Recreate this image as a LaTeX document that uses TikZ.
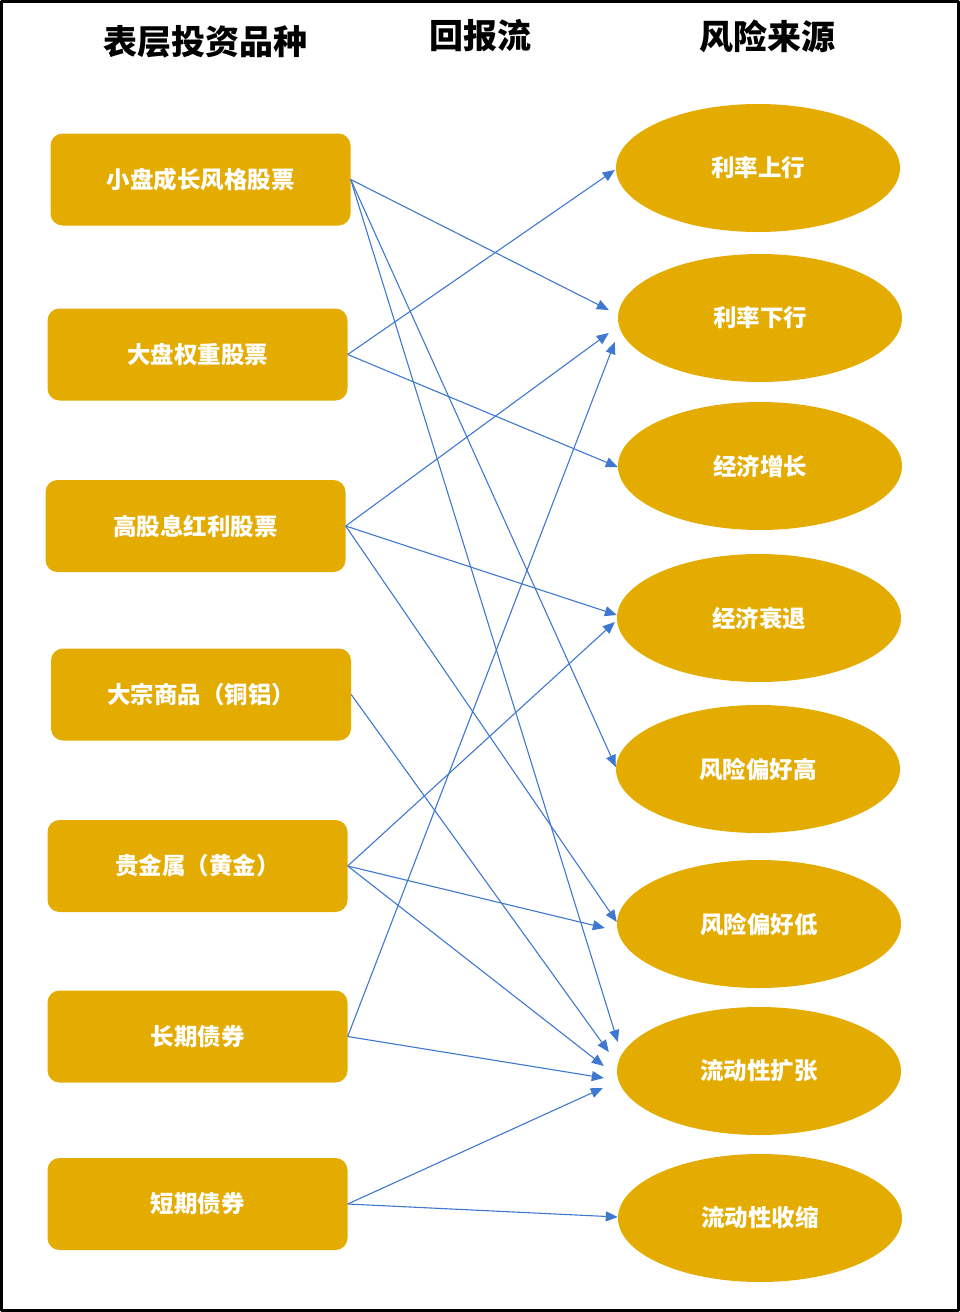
\documentclass[tikz,border=0pt]{standalone}
\usepackage{fontspec}
\newfontfamily\cjk{Noto Sans CJK SC}
\usetikzlibrary{shapes.geometric,arrows.meta}
\definecolor{gold}{HTML}{E4AC00}
\definecolor{flow}{HTML}{3F78D0}
\begin{document}
\begin{tikzpicture}[x=1pt, y=-1pt, line join=round, >={Triangle[length=12pt,width=10pt]},
	font=\cjk\bfseries\fontsize{23.5}{28}\selectfont,
	asset/.style={fill=gold, rounded corners=12pt, minimum width=300pt, minimum height=92pt, inner sep=0pt, text=white},
	risk/.style={ellipse, fill=gold, minimum width=284pt, minimum height=128pt, inner sep=0pt, text=white},
	head/.style={font=\cjk\bfseries\fontsize{34}{40}\selectfont},
	flowline/.style={->, draw=flow, line width=1.1pt}]
	\useasboundingbox (0,0) rectangle (960,1312);
	\draw[line width=3pt] (1.5,1.5) rectangle (958.5,1310.5);
	\node[head] (h1) at (205,42) {表层投资品种};
	\node[head] (h2) at (480,36) {回报流};
	\node[head] (h3) at (767,36) {风险来源};
	\foreach \n/\x/\y/\txt in {1/200.5/179.5/小盘成长风格股票, 2/197.5/354.5/大盘权重股票,
		3/195.5/526/高股息红利股票, 4/201/694.5/大宗商品（铜铝）, 5/197.5/866/贵金属（黄金）,
		6/197.5/1036.5/长期债券, 7/197.5/1204/短期债券}
		\node[asset] (b\n) at (\x,\y) {\txt};
	\foreach \n/\x/\y/\txt in {1/758/168/利率上行, 2/760/318/利率下行, 3/760/466/经济增长,
		4/759/618/经济衰退, 5/758/769/风险偏好高, 6/759/924/风险偏好低,
		7/759/1071/流动性扩张, 8/760/1218/流动性收缩}
		\node[risk] (r\n) at (\x,\y) {\txt};
	\foreach \s/\t/\dx/\dy in {1/2/-9/-8, 1/5/0/-2, 1/7/1/-29, 2/1/-1/2, 2/3/0/1,
		3/2/-9/15, 3/4/0/-3, 3/6/0/-2, 4/7/-8/-19, 5/4/-2/4, 5/6/-12/4, 5/7/-13/-5,
		6/2/-3/24, 6/7/-13/7, 7/7/-14/17, 7/8/0/-1}
		\draw[flowline] (b\s.east) -- ([shift={(\dx,\dy)}]r\t.west);
\end{tikzpicture}
\end{document}
